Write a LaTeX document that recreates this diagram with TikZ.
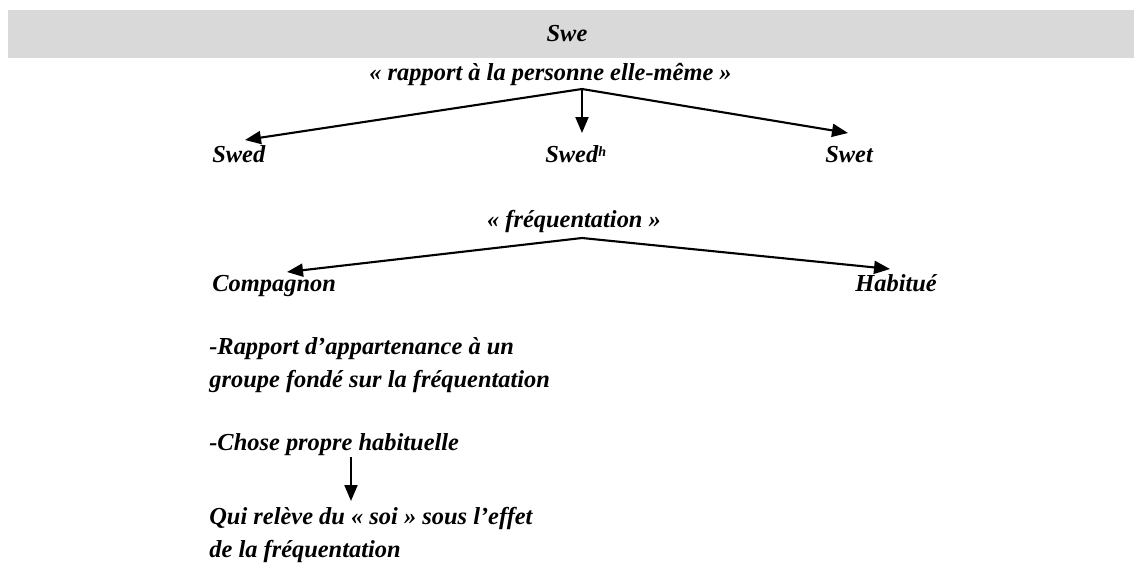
\documentclass[tikz,border=0pt]{standalone}
\usepackage{fontspec}
\setmainfont{Liberation Serif}
\usetikzlibrary{arrows.meta}
\definecolor{bandgray}{HTML}{D9D9D9}
\begin{document}
\begin{tikzpicture}[
  lbl/.style={font=\bfseries\itshape\fontsize{13.9}{18.7}\selectfont, inner sep=0pt},
  arr/.style={-{Triangle[length=0.32cm,width=0.26cm]}, line width=1.2pt}]
\useasboundingbox (0,0) rectangle (22.68,11.36);
\fill[bandgray] (0.16,10.2) rectangle (22.68,11.16);
\node[lbl,anchor=base] (swe) at (11.34,10.52) {Swe};
% rapport a la personne
\node[lbl,anchor=base] (rapport) at (11.01,9.76) {« rapport à la personne elle-même »};
\coordinate (top1) at (11.64,9.58);
\node[lbl,anchor=base west] (swed) at (4.24,8.12) {Swed};
\node[lbl,anchor=base west] (swedh) at (10.9,8.12) {Swed{\fontsize{8}{8}\selectfont\raisebox{0.9ex}{h}}};
\node[lbl,anchor=base west] (swet) at (16.5,8.12) {Swet};
\coordinate (tipd) at (4.9,8.56);
\coordinate (tiph) at (11.64,8.7);
\coordinate (tipt) at (16.96,8.7);
\draw[arr] (top1) -- (tipd);
\draw[arr] (top1) -- (tiph);
\draw[arr] (top1) -- (tipt);
% frequentation
\node[lbl,anchor=base] (freq) at (11.48,6.82) {« fréquentation »};
\coordinate (top2) at (11.64,6.6);
\node[lbl,anchor=base west] (comp) at (4.24,5.54) {Compagnon};
\node[lbl,anchor=base west] (habi) at (17.1,5.54) {Habitué};
\coordinate (tipc) at (5.74,5.92);
\coordinate (tipb) at (17.8,5.98);
\draw[arr] (top2) -- (tipc);
\draw[arr] (top2) -- (tipb);
% sens de compagnon
\node[lbl,anchor=base west,align=left] (appart) at (4.18,3.62) {-Rapport d’appartenance à un\\groupe fondé sur la fréquentation};
\node[lbl,anchor=base west] (chose) at (4.18,2.36) {-Chose propre habituelle};
\node[lbl,anchor=base west,align=left] (soi) at (4.18,0.22) {Qui relève du « soi » sous l’effet\\de la fréquentation};
\coordinate (from3) at (7.02,2.22);
\coordinate (tips) at (7.02,1.34);
\draw[arr] (from3) -- (tips);
\end{tikzpicture}
\end{document}
